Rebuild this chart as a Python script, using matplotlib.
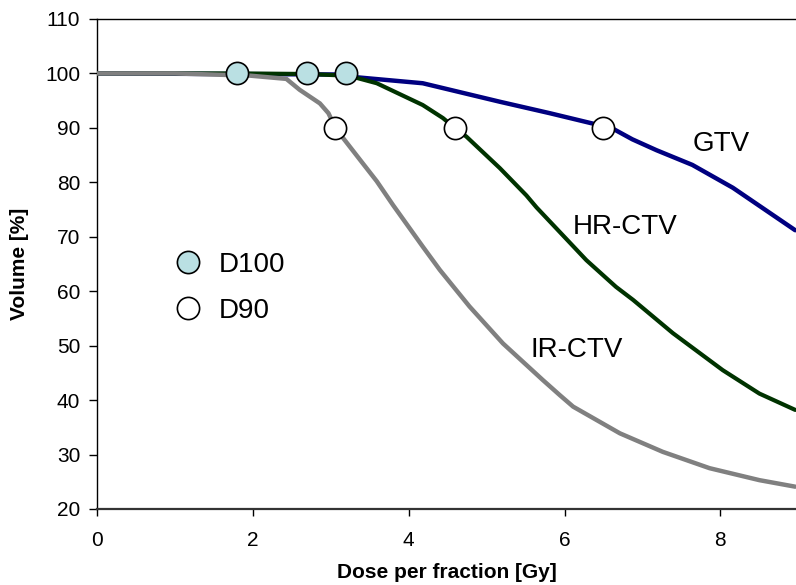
import matplotlib
matplotlib.use('Agg')
import matplotlib.pyplot as plt
from matplotlib.lines import Line2D

plt.rcParams['font.family'] = ['Liberation Sans', 'DejaVu Sans']

# dose-volume curves
gtv_x = [0, 3.2, 3.33, 4.18, 5.17, 5.81, 6.36, 6.49, 6.64, 6.87, 7.18, 7.64, 8.16, 8.96]
gtv_y = [100, 99.8, 99.3, 98.2, 94.8, 92.7, 90.8, 90.2, 89.7, 87.9, 85.9, 83.2, 79.0, 71.2]

hr_x = [0, 1.8, 2.7, 3.2, 3.33, 3.59, 4.18, 4.44, 4.59, 4.74, 5.17, 5.51,
        5.64, 6.28, 6.66, 6.88, 7.39, 8.03, 8.50, 8.96]
hr_y = [100, 100, 99.9, 99.6, 99.2, 98.2, 94.2, 91.8, 90.0, 88.4, 82.6, 77.6,
        75.4, 65.7, 60.8, 58.4, 52.3, 45.5, 41.2, 38.2]

ir_x = [0, 1.0, 1.96, 2.43, 2.6, 2.86, 2.97, 3.05, 3.16, 3.41, 3.59, 3.80,
        4.18, 4.40, 4.78, 5.21, 5.72, 5.94, 6.11, 6.71, 7.26, 7.86, 8.50, 8.96]
ir_y = [100, 100, 99.6, 99.0, 97.0, 94.5, 92.7, 90.3, 88.1, 83.5, 80.2, 75.8,
        68.2, 63.9, 57.2, 50.4, 43.7, 40.9, 38.8, 33.9, 30.5, 27.5, 25.3, 24.1]

d100_x = [1.8, 2.7, 3.2]
d100_y = [100, 100, 100]
d90_x = [3.05, 4.59, 6.49]
d90_y = [90, 90, 90]

curve_labels = ['GTV', 'HR-CTV', 'IR-CTV']
label_pos = [(7.64, 87.0), (6.10, 71.8), (5.56, 49.2)]

fig = plt.figure(figsize=(7.96, 5.85), dpi=100)
ax = fig.add_axes([97 / 796, 76 / 585, 1 - 97 / 796, 490 / 585])

ax.plot(gtv_x, gtv_y, color='#000080', lw=3.2, solid_capstyle='round', zorder=2)
ax.plot(hr_x, hr_y, color='#003300', lw=3.0, solid_capstyle='round', zorder=3)
ax.plot(ir_x, ir_y, color='#808080', lw=3.2, solid_capstyle='round', zorder=4)

ax.plot(d100_x, d100_y, 'o', ms=16, mfc='#bae0e3', mec='black', mew=1.2, zorder=5)
ax.plot(d90_x, d90_y, 'o', ms=16, mfc='white', mec='black', mew=1.2, zorder=5)

for name, (lx, ly) in zip(curve_labels, label_pos):
    ax.text(lx, ly, name, fontsize=20, va='center', ha='left')

handles = [Line2D([], [], ls='none', marker='o', ms=16, mfc='#bae0e3', mec='black', mew=1.2),
           Line2D([], [], ls='none', marker='o', ms=16, mfc='white', mec='black', mew=1.2)]
ax.legend(handles, ['D100', 'D90'], loc='upper left', bbox_to_anchor=(172 / 796, 1 - 252 / 585),
          bbox_transform=fig.transFigure, frameon=False, fontsize=20, handlelength=1.15,
          handletextpad=0.55, labelspacing=0.72, borderpad=0, borderaxespad=0)

ax.set_xlim(0, 8.97)
ax.set_ylim(20, 110)
ax.set_xticks([0, 2, 4, 6, 8])
ax.set_yticks(range(20, 111, 10))
ax.tick_params(axis='x', direction='out', length=5, width=1, pad=11, labelsize=15)
ax.tick_params(axis='y', direction='out', length=6, width=1, pad=6, labelsize=15)

ax.spines['right'].set_visible(False)
ax.spines['bottom'].set_linewidth(1.6)
ax.spines['bottom'].set_color('#333333')
ax.spines['left'].set_linewidth(1.0)
ax.spines['top'].set_linewidth(1.0)

ax.set_xlabel('Dose per fraction [Gy]', fontsize=15, fontweight='bold', labelpad=9)
ax.set_ylabel('Volume [%]', fontsize=15, fontweight='bold', labelpad=12)

fig.savefig('out.png', dpi=100)
